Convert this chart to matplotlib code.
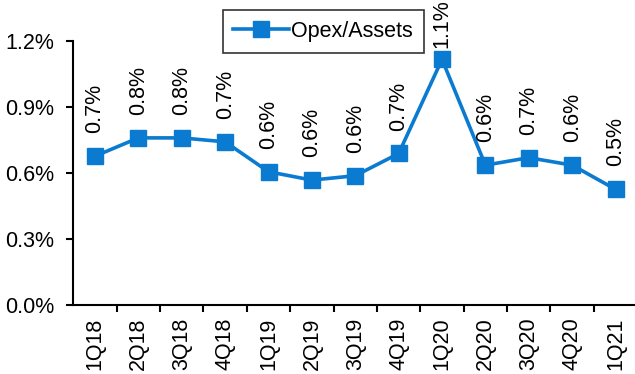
import matplotlib
matplotlib.use("Agg")
import matplotlib.pyplot as plt
from matplotlib.ticker import FuncFormatter, FixedLocator
import numpy as np

plt.rcParams['font.family'] = ['Liberation Sans', 'DejaVu Sans']

quarters = ["1Q18", "2Q18", "3Q18", "4Q18", "1Q19", "2Q19", "3Q19",
            "4Q19", "1Q20", "2Q20", "3Q20", "4Q20", "1Q21"]
opex_assets = [0.677, 0.760, 0.760, 0.742, 0.606, 0.568, 0.588,
               0.689, 1.117, 0.636, 0.670, 0.636, 0.526]
y_ticks = [0.0, 0.3, 0.6, 0.9, 1.2]

blue = '#0A7BD0'
fs = 15.5

fig = plt.figure(figsize=(6.35, 3.74), dpi=100)
ax = fig.add_axes([0.1155, 0.1845, 0.888, 0.7055])

x = np.arange(len(quarters))
ax.plot(x, opex_assets, color=blue, lw=2.6, marker='s', markersize=11.5,
        label='Opex/Assets', clip_on=False, zorder=3)

# value labels above each point; the peak label sits tighter to its marker
peak = max(opex_assets)
for xi, v in zip(x, opex_assets):
    off = 8 if v == peak else 16.5
    ax.annotate(f"{v:.1f}%", (xi, v), xytext=(0, off), textcoords='offset points',
                rotation=90, ha='center', va='bottom', fontsize=fs,
                annotation_clip=False)

ax.set_xlim(-0.5, len(quarters) - 0.5)
ax.set_ylim(0, 1.2)
ax.set_yticks(y_ticks)
ax.yaxis.set_major_formatter(FuncFormatter(lambda v, p: f"{v:.1f}%"))

ax.set_xticks(x)
ax.set_xticklabels(quarters, rotation=90, fontsize=fs)
ax.xaxis.set_minor_locator(FixedLocator(np.arange(0.5, len(quarters) - 0.5, 1)))
ax.tick_params(axis='x', which='major', length=0, pad=9)
ax.tick_params(axis='x', which='minor', length=5, width=1.5, direction='out')
ax.tick_params(axis='y', length=5, width=1.5, direction='out', labelsize=fs, pad=9)

for side in ('top', 'right'):
    ax.spines[side].set_visible(False)
for side in ('left', 'bottom'):
    ax.spines[side].set_linewidth(1.5)

leg = fig.legend(loc='upper center', bbox_to_anchor=(0.509, 0.973), fontsize=fs,
                 frameon=True, fancybox=False, edgecolor='black',
                 handlelength=2.6, borderpad=0.5, handletextpad=0.1,
                 borderaxespad=0)
leg.get_frame().set_linewidth(1.2)

fig.savefig("out.png", dpi=100)
